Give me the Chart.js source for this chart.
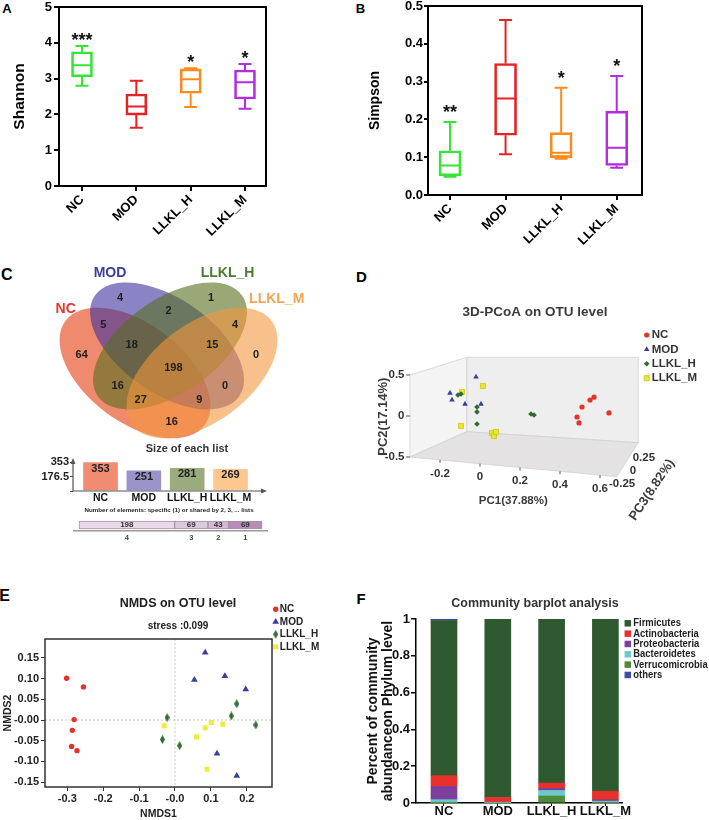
<!DOCTYPE html>
<html><head><meta charset="utf-8"><title>Gut microbiota figure</title>
<script src="https://cdn.jsdelivr.net/npm/chart.js@4.4.1/dist/chart.umd.min.js"></script>
<style>
html,body{margin:0;padding:0;background:#fff;width:709px;height:820px;overflow:hidden;}
canvas{position:absolute;}
.pl{position:absolute;font-family:"Liberation Sans",Arial,sans-serif;font-weight:bold;line-height:1;transform:translate(-50%,-50%);color:#000;}
</style></head>
<body>
<div class="pl" style="left:7px;top:8.4px;font-size:13px">A</div>
<div class="pl" style="left:360.5px;top:8.4px;font-size:13px">B</div>
<div class="pl" style="left:6.7px;top:275px;font-size:16px">C</div>
<div class="pl" style="left:361.3px;top:276.2px;font-size:15px">D</div>
<div class="pl" style="left:4.7px;top:595.5px;font-size:16px">E</div>
<div class="pl" style="left:361px;top:597.5px;font-size:15px">F</div>
<canvas id="cA" width="300" height="245" style="left:0;top:0"></canvas>
<canvas id="cB" width="359" height="250" style="left:350px;top:0"></canvas>
<canvas id="cVenn" width="290" height="183" style="left:30px;top:262px"></canvas>
<canvas id="cSize" width="374" height="75" style="left:0;top:440px"></canvas>
<canvas id="cShared" width="338" height="40" style="left:0;top:503px"></canvas>
<canvas id="cD" width="348" height="290" style="left:361px;top:255px"></canvas>
<canvas id="cE" width="356" height="235" style="left:0;top:585px"></canvas>
<canvas id="cF" width="348" height="235" style="left:361px;top:585px"></canvas>
<script>
// ================= DATA =================
const groups = ['NC', 'MOD', 'LLKL_H', 'LLKL_M'];

// A: Shannon box plots
const shannonMin    = [2.80, 1.63, 2.21, 2.16];
const shannonQ1     = [3.05, 1.98, 2.59, 2.43];
const shannonMedian = [3.37, 2.22, 2.98, 2.90];
const shannonQ3     = [3.75, 2.57, 3.27, 3.24];
const shannonMax    = [3.91, 2.94, 3.29, 3.41];
const shannonSignif = ['***', '', '*', '*'];
const shannonTicks = [0, 1, 2, 3, 4, 5];
const shannonTickLabels = ['0', '1', '2', '3', '4', '5'];

// B: Simpson box plots
const simpsonMin    = [0.048, 0.108, 0.096, 0.072];
const simpsonQ1     = [0.051, 0.158, 0.099, 0.078];
const simpsonMedian = [0.078, 0.255, 0.112, 0.125];
const simpsonQ3     = [0.117, 0.348, 0.165, 0.222];
const simpsonMax    = [0.193, 0.463, 0.284, 0.315];
const simpsonSignif = ['**', '', '*', '*'];
const simpsonTicks = [0, 0.1, 0.2, 0.3, 0.4, 0.5];
const simpsonTickLabels = ['0.0', '0.1', '0.2', '0.3', '0.4', '0.5'];

// C: Venn diagram
const vennSets = ['NC', 'MOD', 'LLKL_H', 'LLKL_M'];
const vennRegions = ['MOD', 'LLKL_H', 'MOD&LLKL_H', 'NC&MOD', 'LLKL_H&LLKL_M', 'NC',
  'NC&MOD&LLKL_H', 'MOD&LLKL_H&LLKL_M', 'LLKL_M', 'all four', 'NC&LLKL_H', 'MOD&LLKL_M',
  'NC&LLKL_H&LLKL_M', 'NC&MOD&LLKL_M', 'NC&LLKL_M'];
const vennCounts = [4, 1, 2, 5, 4, 64, 18, 15, 0, 198, 16, 0, 27, 9, 16];
const listSizes = [353, 251, 281, 269];
const listSizeTicks = [0, 176.5, 353];
const listSizeTickLabels = ['', '176.5', '353'];
const sharedBy = ['4', '3', '2', '1'];
const sharedCounts = [198, 69, 43, 69];

// D: 3D PCoA (projected PC1 / PC2 positions)
const pcoaNC  = [[0.485, -0.012], [0.495, -0.085], [0.51, 0.11], [0.55, 0.195], [0.57, 0.23], [0.645, 0.037]];
const pcoaMOD = [[-0.15, 0.28], [-0.14, 0.195], [-0.075, 0.146], [-0.02, 0.476], [0.005, 0.146]];
const pcoaH   = [[-0.11, 0.256], [-0.095, 0.268], [-0.015, 0.11], [-0.015, 0.05], [-0.015, -0.098], [0.255, 0.024], [0.27, 0.012]];
const pcoaM   = [[-0.09, 0.293], [-0.095, -0.122], [0.015, 0.366], [0.06, -0.207], [0.07, -0.244], [0.08, -0.195]];
const pc1Ticks = [-0.2, 0, 0.2, 0.4, 0.6];
const pc1TickLabels = ['-0.2', '0', '0.2', '0.4', '0.6'];
const pc2Ticks = [-0.5, 0, 0.5];
const pc2TickLabels = ['-0.5', '0', '0.5'];
const pc3Ticks = [-0.25, 0, 0.25];
const pc3TickLabels = ['-0.25', '0', '0.25'];

// E: NMDS
const nmdsNC  = [[-0.302, 0.101], [-0.255, 0.080], [-0.281, 0.001], [-0.286, -0.025], [-0.288, -0.064], [-0.273, -0.074]];
const nmdsMOD = [[0.084, 0.163], [0.054, 0.097], [0.139, 0.106], [0.197, 0.074], [0.117, -0.081], [0.172, -0.135]];
const nmdsH   = [[-0.022, 0.006], [-0.035, -0.047], [0.013, -0.062], [0.172, 0.039], [0.157, 0.010], [0.225, -0.012]];
const nmdsM   = [[-0.030, -0.014], [0.060, -0.041], [0.084, -0.019], [0.101, -0.006], [0.133, -0.010], [0.089, -0.119]];
const nmdsXTicks = [-0.3, -0.2, -0.1, 0, 0.1, 0.2];
const nmdsXTickLabels = ['-0.3', '-0.2', '-0.1', '-0.0', '0.1', '0.2'];
const nmdsYTicks = [-0.15, -0.10, -0.05, 0, 0.05, 0.10, 0.15];
const nmdsYTickLabels = ['-0.15', '-0.10', '-0.05', '-0.00', '0.05', '0.10', '0.15'];

// F: phylum-level community composition (stacked from bottom)
const verrucomicrobia = [0.002, 0.000, 0.038, 0.002];
const bacteroidetes   = [0.016, 0.002, 0.030, 0.008];
const proteobacteria  = [0.072, 0.002, 0.012, 0.008];
const actinobacteria  = [0.059, 0.026, 0.028, 0.046];
const firmicutes      = [0.843, 0.970, 0.892, 0.936];
const othersPhyla     = [0.008, 0.000, 0.000, 0.000];
const abundTicks = [0, 0.2, 0.4, 0.6, 0.8, 1];
const abundTickLabels = ['0', '0.2', '0.4', '0.6', '0.8', '1'];

// ================= STYLE / LAYOUT =================
const FF = '"Liberation Sans", Arial, Helvetica, sans-serif';
Chart.defaults.font.family = FF;
Chart.defaults.font.weight = 'bold';
Chart.defaults.color = '#111';
const base = {responsive: false, maintainAspectRatio: false, animation: false, devicePixelRatio: 1, events: []};
const boxColors = ['#36e436', '#e62222', '#ff8a1c', '#b22de2'];

function fixW(w) { return function (s) { s.width = w; s.paddingTop = 0; s.paddingBottom = 0; s.paddingLeft = 0; s.paddingRight = 0; }; }
function fixH(h) { return function (s) { s.height = h; s.paddingTop = 0; s.paddingBottom = 0; s.paddingLeft = 0; s.paddingRight = 0; }; }
function setTicks(vals) { return function (s) { s.ticks = vals.map(v => ({value: v})); }; }
function spacer(pos, size) {
  return {type: 'linear', position: pos, display: true, ticks: {display: false},
    grid: {display: false, drawTicks: false}, border: {display: false},
    afterFit: (pos === 'left' || pos === 'right') ? fixW(size) : fixH(size)};
}
const toXY = arr => arr.map(p => ({x: p[0], y: p[1]}));

function txt(ctx, s, x, y, size, color, align, baseline, sx, rot) {
  ctx.save(); ctx.translate(x, y);
  if (rot) ctx.rotate(rot);
  if (sx) ctx.scale(sx, 1);
  ctx.font = 'bold ' + size + 'px ' + FF; ctx.fillStyle = color;
  ctx.textAlign = align || 'center'; ctx.textBaseline = baseline || 'middle';
  ctx.fillText(s, 0, 0); ctx.restore();
}
function drawMarker(ctx, style, r, x, y, fill, stroke) {
  ctx.save(); ctx.fillStyle = fill;
  if (style && style.getContext) { ctx.drawImage(style, x - style.width / 2, y - style.height / 2); ctx.restore(); return; }
  ctx.beginPath();
  if (style === 'triangle') {
    let a = 0;
    ctx.moveTo(x + Math.sin(a) * r, y - Math.cos(a) * r); a += 2 * Math.PI / 3;
    ctx.lineTo(x + Math.sin(a) * r, y - Math.cos(a) * r); a += 2 * Math.PI / 3;
    ctx.lineTo(x + Math.sin(a) * r, y - Math.cos(a) * r); ctx.closePath();
  } else if (style === 'rect') {
    const s = r * Math.SQRT1_2; ctx.rect(x - s, y - s, 2 * s, 2 * s);
  } else if (style === 'rectRot') {
    ctx.moveTo(x, y - r); ctx.lineTo(x + r, y); ctx.lineTo(x, y + r); ctx.lineTo(x - r, y); ctx.closePath();
  } else { ctx.arc(x, y, r, 0, 2 * Math.PI); }
  ctx.fill();
  if (stroke && stroke !== fill) { ctx.strokeStyle = stroke; ctx.lineWidth = 0.8; ctx.stroke(); }
  ctx.restore();
}
function diamondImage(w, h, color) {
  const c = document.createElement('canvas'); c.width = w; c.height = h;
  const g = c.getContext('2d'); g.fillStyle = color; g.beginPath();
  g.moveTo(w / 2, 0); g.lineTo(w, h / 2); g.lineTo(w / 2, h); g.lineTo(0, h / 2); g.closePath(); g.fill();
  return c;
}

// ---------- plugins ----------
const boxPlugin = {
  id: 'boxw',
  afterDatasetsDraw(chart, args, o) {
    const {ctx, chartArea: a, scales: {x, y}} = chart;
    ctx.save(); ctx.lineWidth = 2;
    for (let i = 0; i < o.min.length; i++) {
      const cx = x.getPixelForValue(i), hw = o.capW / 2, bw = o.boxW / 2 - 1;
      const py = v => y.getPixelForValue(v);
      ctx.strokeStyle = o.colors[i];
      ctx.beginPath();
      ctx.moveTo(cx, py(o.q1[i])); ctx.lineTo(cx, py(o.min[i]));
      ctx.moveTo(cx, py(o.q3[i])); ctx.lineTo(cx, py(o.max[i]));
      ctx.moveTo(cx - hw, py(o.min[i])); ctx.lineTo(cx + hw, py(o.min[i]));
      ctx.moveTo(cx - hw, py(o.max[i])); ctx.lineTo(cx + hw, py(o.max[i]));
      ctx.moveTo(cx - bw, py(o.med[i])); ctx.lineTo(cx + bw, py(o.med[i]));
      ctx.stroke();
      if (o.sig[i]) txt(ctx, o.sig[i], cx, py(o.max[i]) - o.sigGap + 0.58 * o.starSize, o.starSize, '#111', 'center', 'alphabetic');
    }
    ctx.strokeStyle = '#000'; ctx.lineWidth = 2;
    ctx.strokeRect(a.left, a.top, a.right - a.left, a.bottom - a.top);
    ctx.restore();
  }
};

function boxChart(id, c) {
  return new Chart(document.getElementById(id), {
    type: 'bar',
    data: {datasets: [{label: c.label, data: groups.map((g, i) => ({x: i, y: [c.q1[i], c.q3[i]]})),
      backgroundColor: 'rgba(0,0,0,0)', borderColor: boxColors, borderWidth: 2, borderSkipped: false, barThickness: c.bw}]},
    options: Object.assign({}, base, {
      layout: {padding: {left: 0, right: c.padR, top: c.padT, bottom: 0}},
      plugins: {legend: {display: false}, tooltip: {enabled: false},
        boxw: {min: c.min, q1: c.q1, med: c.med, q3: c.q3, max: c.max, sig: c.sig, colors: boxColors,
          capW: 13, boxW: c.bw, sigGap: c.sigGap, starSize: 18}},
      scales: {
        x: {type: 'linear', offset: false, min: c.xmin, max: c.xmax, afterBuildTicks: setTicks([0, 1, 2, 3]),
          ticks: {callback: (v, i) => groups[i], minRotation: 45, maxRotation: 45, autoSkip: false,
            font: {size: 13, weight: 'bold', lineHeight: 1}, color: '#000', padding: 2},
          grid: {offset: false, drawOnChartArea: false, tickLength: 5, color: '#000', lineWidth: 2},
          border: {display: false}, afterFit: fixH(c.xh)},
        y: {type: 'linear', min: c.ymin, max: c.ymax, afterBuildTicks: setTicks(c.ticks),
          ticks: {callback: (v, i) => c.tickLabels[i], font: {size: 13, weight: 'bold', lineHeight: 1}, color: '#000', padding: c.tpad},
          grid: {drawOnChartArea: false, tickLength: c.tl, color: '#000', lineWidth: 2},
          border: {display: false},
          title: {display: true, text: c.title, font: {size: c.tsize, weight: 'bold'}, color: '#000', padding: {top: c.titlePad, bottom: 0}},
          afterFit: fixW(c.yw)}
      }
    }),
    plugins: [boxPlugin]
  });
}

// ---------- A ----------
boxChart('cA', {label: 'Shannon', min: shannonMin, q1: shannonQ1, med: shannonMedian, q3: shannonQ3, max: shannonMax,
  sig: shannonSignif, ticks: shannonTicks, tickLabels: shannonTickLabels, ymin: 0, ymax: 5,
  xmin: -0.4233, xmax: 3.3865, padR: 34, padT: 7, xh: 59, yw: 59, bw: 21, tl: 5, tpad: 2,
  title: 'Shannon', tsize: 15.5, titlePad: 10.7, sigGap: 10.5});

// ---------- B ----------
boxChart('cB', {label: 'Simpson', min: simpsonMin, q1: simpsonQ1, med: simpsonMedian, q3: simpsonQ3, max: simpsonMax,
  sig: simpsonSignif, ticks: simpsonTicks, tickLabels: simpsonTickLabels, ymin: 0, ymax: 0.5,
  xmin: -0.3959, xmax: 3.455, padR: 67, padT: 6, xh: 55, yw: 78, bw: 22, tl: 4, tpad: 1,
  title: 'Simpson', tsize: 14, titlePad: 16.6, sigGap: 14.5});

// ---------- C: Venn ----------
// ellipse layout in diagram units: [cx, cy, semi-major, semi-minor, rotation deg]
const vennShapes = [[0.3654, 0.2769, 0.3346, 0.1885, 37], [0.4885, 0.3808, 0.3385, 0.1808, 35],
                    [0.5000, 0.3808, 0.3385, 0.1808, -35], [0.6231, 0.2769, 0.3346, 0.1885, -37]];
const vennFill = ['rgba(228,60,13,0.6)', 'rgba(60,50,157,0.6)', 'rgba(87,110,30,0.6)', 'rgba(243,150,60,0.6)'];
const vennLabelColors = ['#e8342c', '#3d3d98', '#4b7b33', '#f6a452'];
const vennSetLabelPos = [[0.0988, 0.523], [0.2692, 0.6604], [0.7212, 0.6604], [0.9104, 0.5604]];
const vennCountPos = [[0.3077, 0.5641], [0.6577, 0.5641], [0.4949, 0.5154], [0.2436, 0.4615], [0.75, 0.4615],
  [0.1604, 0.3462], [0.3526, 0.3858], [0.6628, 0.3858], [0.8308, 0.3462], [0.5128, 0.2962], [0.2988, 0.2269],
  [0.7115, 0.2269], [0.3873, 0.1731], [0.6128, 0.1731], [0.5065, 0.0895]];

const vennPlugin = {
  id: 'venn',
  beforeDatasetsDraw(chart) {
    const {ctx, scales: {x, y}} = chart;
    const k = x.getPixelForValue(1) - x.getPixelForValue(0);
    ctx.save();
    vennShapes.forEach((e, i) => {
      ctx.beginPath();
      ctx.ellipse(x.getPixelForValue(e[0]), y.getPixelForValue(e[1]), e[2] * k, e[3] * k, e[4] * Math.PI / 180, 0, 2 * Math.PI);
      ctx.fillStyle = vennFill[i]; ctx.fill();
    });
    vennSets.forEach((s, i) => txt(ctx, s, x.getPixelForValue(vennSetLabelPos[i][0]), y.getPixelForValue(vennSetLabelPos[i][1]), 14, vennLabelColors[i]));
    chart.getDatasetMeta(0).data.forEach((p, i) => txt(ctx, String(vennCounts[i]), p.x, p.y, 11, '#1e1e1e'));
    ctx.restore();
  }
};
new Chart(document.getElementById('cVenn'), {
  type: 'scatter',
  data: {datasets: [{label: 'Venn region counts', data: toXY(vennCountPos), pointRadius: 0}]},
  options: Object.assign({}, base, {
    layout: {padding: 0},
    plugins: {legend: {display: false}, tooltip: {enabled: false}},
    scales: {x: {type: 'linear', display: false, min: -0.0385, max: 1.0769},
             y: {type: 'linear', display: false, min: 0, max: 0.7038}}
  }),
  plugins: [vennPlugin]
});

// ---------- C: size of each list ----------
const sizeColors = ['#f08c72', '#9893c8', '#9aab7d', '#fcc890'];
const sizePlugin = {
  id: 'sizeAxes',
  afterDatasetsDraw(chart) {
    const {ctx, chartArea: a} = chart;
    ctx.save(); ctx.strokeStyle = '#555'; ctx.fillStyle = '#555'; ctx.lineWidth = 1.2;
    ctx.beginPath(); ctx.moveTo(a.left, a.bottom); ctx.lineTo(a.right - 4, a.bottom);
    ctx.moveTo(a.left, a.bottom); ctx.lineTo(a.left, a.top + 4); ctx.stroke();
    ctx.beginPath(); ctx.moveTo(a.right, a.bottom); ctx.lineTo(a.right - 6, a.bottom - 2.5); ctx.lineTo(a.right - 6, a.bottom + 2.5); ctx.closePath(); ctx.fill();
    ctx.beginPath(); ctx.moveTo(a.left, a.top); ctx.lineTo(a.left - 2.5, a.top + 6); ctx.lineTo(a.left + 2.5, a.top + 6); ctx.closePath(); ctx.fill();
    chart.getDatasetMeta(0).data.forEach((b, i) => txt(ctx, String(listSizes[i]), b.x, b.y + 6.5, 11, '#222'));
    ctx.restore();
  }
};
new Chart(document.getElementById('cSize'), {
  type: 'bar',
  data: {datasets: [{label: 'Size of each list', data: listSizes.map((v, i) => ({x: i, y: v})),
    backgroundColor: sizeColors, borderColor: '#ffffff', borderWidth: 0.5, barThickness: 35}]},
  options: Object.assign({}, base, {
    layout: {padding: 0},
    plugins: {legend: {display: false}, tooltip: {enabled: false},
      title: {display: true, text: 'Size of each list', font: {size: 11, weight: 'bold'}, color: '#333', padding: {top: 2.4, bottom: 2.4}}},
    scales: {
      x: {type: 'linear', offset: false, min: -0.635, max: 3.842, afterBuildTicks: setTicks([0, 1, 2, 3]),
        ticks: {callback: (v, i) => groups[i], maxRotation: 0, autoSkip: false, font: {size: 10.5, weight: 'bold', lineHeight: 1}, color: '#111', padding: 2},
        grid: {offset: false, display: false, drawTicks: false}, border: {display: false}, afterFit: fixH(24)},
      y: {type: 'linear', min: 0, max: 401.7, afterBuildTicks: setTicks(listSizeTicks),
        ticks: {callback: (v, i) => listSizeTickLabels[i], font: {size: 11, weight: 'bold', lineHeight: 1}, color: '#222', padding: 1},
        grid: {drawOnChartArea: false, tickLength: 3, color: '#444'}, border: {display: false}, afterFit: fixW(73)},
      yR: spacer('right', 107)
    }
  }),
  plugins: [sizePlugin]
});

// ---------- C: shared elements ----------
const sharedColors = ['#e9d9e9', '#dccadc', '#d3b9d3', '#b58db5'];
const sharedPlugin = {
  id: 'sharedLabels',
  afterDatasetsDraw(chart) {
    const ctx = chart.ctx; ctx.save();
    chart.data.datasets.forEach((d, i) => {
      const b = chart.getDatasetMeta(i).data[0];
      const cx = (b.x + b.base) / 2;
      txt(ctx, String(sharedCounts[i]), cx, b.y, 8, '#333');
      txt(ctx, d.label, cx, chart.chartArea.bottom + 6.5, 7.5, '#444');
    });
    ctx.restore();
  }
};
new Chart(document.getElementById('cShared'), {
  type: 'bar',
  data: {labels: ['elements'], datasets: sharedBy.map((l, i) => ({label: l, data: [sharedCounts[i]],
    backgroundColor: sharedColors[i], borderColor: '#a690a6', borderWidth: 1, borderSkipped: false, barThickness: 8}))},
  options: Object.assign({}, base, {
    indexAxis: 'y',
    layout: {padding: 0},
    plugins: {legend: {display: false}, tooltip: {enabled: false},
      title: {display: true, text: 'Number of elements: specific (1) or shared by 2, 3, ... lists', font: {size: 6.2, weight: 'bold'}, color: '#222', padding: {top: 3.3, bottom: 5.3}}},
    scales: {
      x: {type: 'linear', stacked: true, min: -10.36, max: 389.35, ticks: {display: false}, grid: {display: false},
        border: {display: true, color: '#9a9a9a', width: 1.5}, afterFit: fixH(12)},
      y: {stacked: true, display: true, ticks: {display: false}, grid: {display: false, drawTicks: false}, border: {display: false}, afterFit: fixW(74)},
      yR: spacer('right', 71)
    }
  }),
  plugins: [sharedPlugin]
});

// ---------- D: 3D PCoA ----------
const dBox = {ftl: [-0.35, 0.5], fbl: [-0.35, -0.5], fbr: [0.6835, -0.740], bbl: [-0.0665, -0.1915],
              bbr: [0.7915, -0.3256], btl: [-0.0665, 0.7159], btr: [0.7915, 0.7159]};
const pcoaFrame = {
  id: 'pcoaFrame',
  beforeDatasetsDraw(chart) {
    const {ctx, scales: {x, y}} = chart;
    const P = v => [x.getPixelForValue(v[0]), y.getPixelForValue(v[1])];
    const c = {}; for (const k in dBox) c[k] = P(dBox[k]);
    const poly = (pts, fill) => {
      ctx.beginPath(); pts.forEach((p, i) => i ? ctx.lineTo(p[0], p[1]) : ctx.moveTo(p[0], p[1])); ctx.closePath();
      ctx.fillStyle = fill; ctx.fill(); ctx.strokeStyle = '#d2d2d2'; ctx.lineWidth = 0.8; ctx.stroke();
    };
    ctx.save();
    poly([c.btl, c.btr, c.bbr, c.bbl], '#eeeeee');
    poly([c.ftl, c.btl, c.bbl, c.fbl], '#f4f4f4');
    poly([c.fbl, c.bbl, c.bbr, c.fbr], '#e4e2e2');
    ctx.strokeStyle = '#555'; ctx.lineWidth = 1;
    pc2Ticks.forEach((v, i) => {
      const px = c.ftl[0], py = y.getPixelForValue(v);
      ctx.beginPath(); ctx.moveTo(px - 4, py); ctx.lineTo(px, py); ctx.stroke();
      txt(ctx, pc2TickLabels[i], px - 5.5, py, 11.5, '#333', 'right');
    });
    pc1Ticks.forEach((v, i) => {
      const px = x.getPixelForValue(v);
      const t = (px - c.fbl[0]) / (c.fbr[0] - c.fbl[0]);
      const py = c.fbl[1] + t * (c.fbr[1] - c.fbl[1]);
      ctx.beginPath(); ctx.moveTo(px, py); ctx.lineTo(px, py + 3); ctx.stroke();
      txt(ctx, pc1TickLabels[i], px, py + 13.5, 11.5, '#333');
    });
    pc3Ticks.forEach((v, i) => {
      const p = P([0.765 + 0.217 * v, -0.6646 + 0.6268 * v]);
      txt(ctx, pc3TickLabels[i], p[0], p[1], 11.5, '#333');
    });
    let p = P([0.1665, -1.0366]); txt(ctx, 'PC1(37.88%)', p[0], p[1], 11.5, '#3a3a3a');
    p = P([-0.4835, -0.0085]); txt(ctx, 'PC2(17.14%)', p[0], p[1], 13, '#3a3a3a', 'center', 'middle', 0, -Math.PI / 2);
    p = P([0.86, -0.9024]); txt(ctx, 'PC3(8.82%)', p[0], p[1], 13, '#3a3a3a', 'center', 'middle', 0, -56 * Math.PI / 180);
    ctx.restore();
  }
};
const sideLegend = {
  id: 'sideLegend',
  afterDraw(chart, args, o) {
    const ctx = chart.ctx, ds = chart.data.datasets;
    ctx.save();
    o.order.forEach((di, k) => {
      const d = ds[di], yy = o.y + k * o.dy;
      drawMarker(ctx, o.marker || d.pointStyle, o.r || d.pointRadius, o.mx, yy, d.backgroundColor, d.borderColor);
      txt(ctx, d.label, o.tx, yy, o.size, o.color, 'left', 'middle', o.sx || 0);
    });
    ctx.restore();
  }
};
new Chart(document.getElementById('cD'), {
  type: 'scatter',
  data: {datasets: [
    {label: 'NC', data: toXY(pcoaNC), pointStyle: 'circle', pointRadius: 2.6, backgroundColor: '#e5332a', borderWidth: 0, clip: false},
    {label: 'MOD', data: toXY(pcoaMOD), pointStyle: 'triangle', pointRadius: 3.2, backgroundColor: '#3a3f9e', borderWidth: 0, clip: false},
    {label: 'LLKL_H', data: toXY(pcoaH), pointStyle: 'rectRot', pointRadius: 2.8, backgroundColor: '#2f6b2f', borderWidth: 0, clip: false},
    {label: 'LLKL_M', data: toXY(pcoaM), pointStyle: 'rect', pointRadius: 3.6, backgroundColor: '#e8e62e', borderColor: '#c9c61c', borderWidth: 0.8, clip: false}
  ]},
  options: Object.assign({}, base, {
    layout: {padding: 0},
    plugins: {legend: {display: false}, tooltip: {enabled: false},
      title: {display: true, text: '3D-PCoA on OTU level', font: {size: 13.5, weight: 'bold'}, color: '#3a3a3a', padding: {top: 48.9, bottom: 54.9}},
      sideLegend: {order: [0, 1, 2, 3], mx: 285.7, tx: 290.7, y: 80, dy: 14.4, size: 11.5, color: '#333'}},
    scales: {
      x: {type: 'linear', min: -0.35, max: 0.665, display: true, ticks: {display: false}, grid: {display: false, drawTicks: false}, border: {display: false}, afterFit: fixH(88)},
      y: {type: 'linear', min: -0.5, max: 0.5, display: true, ticks: {display: false}, grid: {display: false, drawTicks: false}, border: {display: false}, afterFit: fixW(49)},
      yR: spacer('right', 96)
    }
  }),
  plugins: [pcoaFrame, sideLegend]
});

// ---------- E: NMDS ----------
const nmdsFrame = {
  id: 'nmdsFrame',
  beforeDatasetsDraw(chart) {
    const {ctx, chartArea: a, scales: {x, y}} = chart;
    ctx.save(); ctx.strokeStyle = '#bdbdbd'; ctx.lineWidth = 0.8; ctx.setLineDash([2, 2]);
    const x0 = x.getPixelForValue(0), y0 = y.getPixelForValue(0);
    ctx.beginPath(); ctx.moveTo(x0, a.top); ctx.lineTo(x0, a.bottom); ctx.moveTo(a.left, y0); ctx.lineTo(a.right, y0); ctx.stroke();
    ctx.setLineDash([]); ctx.strokeStyle = '#333'; ctx.lineWidth = 1.5;
    ctx.strokeRect(a.left, a.top, a.right - a.left, a.bottom - a.top);
    ctx.restore();
  }
};
const greenDiamond = diamondImage(5, 9, '#2f7030');
new Chart(document.getElementById('cE'), {
  type: 'scatter',
  data: {datasets: [
    {label: 'NC', data: toXY(nmdsNC), pointStyle: 'circle', pointRadius: 2.7, backgroundColor: '#e8302a', borderWidth: 0},
    {label: 'MOD', data: toXY(nmdsMOD), pointStyle: 'triangle', pointRadius: 3.9, backgroundColor: '#3a3f9e', borderWidth: 0},
    {label: 'LLKL_H', data: toXY(nmdsH), pointStyle: greenDiamond, pointRadius: 3.5, backgroundColor: '#2f7030', borderWidth: 0},
    {label: 'LLKL_M', data: toXY(nmdsM), pointStyle: 'rect', pointRadius: 3.6, backgroundColor: '#f0ec3c', borderWidth: 0}
  ]},
  options: Object.assign({}, base, {
    layout: {padding: 0},
    plugins: {legend: {display: false}, tooltip: {enabled: false},
      title: {display: true, text: 'NMDS on OTU level', font: {size: 12.5, weight: 'bold'}, color: '#222', padding: {top: 11.5, bottom: 8.5}},
      subtitle: {display: true, text: 'stress :0.099', font: {size: 10, weight: 'bold'}, color: '#222', padding: {top: 0, bottom: 7}},
      sideLegend: {order: [0, 1, 2, 3], mx: 275.7, tx: 279.8, y: 24.3, dy: 12.5, size: 10, color: '#222'}},
    scales: {
      x: {type: 'linear', min: -0.3621, max: 0.2702, afterBuildTicks: setTicks(nmdsXTicks),
        ticks: {callback: (v, i) => nmdsXTickLabels[i], maxRotation: 0, autoSkip: false, font: {size: 11, weight: 'bold', lineHeight: 1}, color: '#222', padding: 2},
        grid: {drawOnChartArea: false, tickLength: 4, color: '#333'}, border: {display: false},
        title: {display: true, text: 'NMDS1', font: {size: 10.5, weight: 'bold'}, color: '#222', padding: {top: 0, bottom: 0}},
        afterFit: fixH(33)},
      y: {type: 'linear', min: -0.1618, max: 0.1957, afterBuildTicks: setTicks(nmdsYTicks),
        ticks: {callback: (v, i) => nmdsYTickLabels[i], autoSkip: false, font: {size: 11, weight: 'bold', lineHeight: 1}, color: '#222', padding: 2},
        grid: {drawOnChartArea: false, tickLength: 4, color: '#333'}, border: {display: false},
        title: {display: true, text: 'NMDS2', font: {size: 10.5, weight: 'bold'}, color: '#222', padding: {top: 1.7, bottom: 0}},
        afterFit: fixW(45)},
      yR: spacer('right', 84)
    }
  }),
  plugins: [nmdsFrame, sideLegend]
});

// ---------- F: community barplot ----------
const phylumColors = ['#4f8b3b', '#6ccacb', '#7d3f9e', '#e8312b', '#2f5a2f', '#3c4ea2'];
const phylumSeries = [['Verrucomicrobia', verrucomicrobia], ['Bacteroidetes', bacteroidetes], ['Proteobacteria', proteobacteria],
  ['Actinobacteria', actinobacteria], ['Firmicutes', firmicutes], ['others', othersPhyla]];
new Chart(document.getElementById('cF'), {
  type: 'bar',
  data: {datasets: phylumSeries.map((s, k) => ({label: s[0], data: s[1].map((v, i) => ({x: i, y: v})),
    backgroundColor: phylumColors[k], borderWidth: 0, barThickness: 26}))},
  options: Object.assign({}, base, {
    layout: {padding: 0},
    plugins: {legend: {display: false}, tooltip: {enabled: false},
      title: {display: true, text: 'Community barplot analysis', font: {size: 12.5, weight: 'bold'}, color: '#333', padding: {top: 11.5, bottom: 7.5}},
      sideLegend: {order: [4, 3, 2, 1, 0, 5], marker: 'rect', r: 4.6, mx: 266.8, tx: 272.3, y: 38.3, dy: 10.33, size: 11.5, sx: 0.82, color: '#222'}},
    scales: {
      x: {type: 'linear', offset: false, stacked: true, min: -0.5204, max: 3.3086, afterBuildTicks: setTicks([0, 1, 2, 3]),
        ticks: {callback: (v, i) => groups[i], maxRotation: 0, autoSkip: false, font: {size: 13, weight: 'bold', lineHeight: 1}, color: '#111', padding: -1},
        grid: {offset: false, drawOnChartArea: false, tickLength: 3, color: '#000'}, border: {display: true, color: '#000', width: 1.5},
        afterFit: fixH(17)},
      y: {type: 'linear', stacked: true, min: 0, max: 1, afterBuildTicks: setTicks(abundTicks),
        ticks: {callback: (v, i) => abundTickLabels[i], font: {size: 13, weight: 'bold', lineHeight: 1}, color: '#111', padding: 1},
        grid: {drawOnChartArea: false, tickLength: 5, color: '#000', lineWidth: 1.5}, border: {display: true, color: '#000', width: 1.5},
        title: {display: true, text: ['Percent of community', 'abundanceon Phylum level'], font: {size: 14, weight: 'bold', lineHeight: 1.07}, color: '#111', padding: {top: 4.5, bottom: 0}},
        afterFit: fixW(55)},
      yR: spacer('right', 87)
    }
  }),
  plugins: [sideLegend]
});
</script>
</body></html>
